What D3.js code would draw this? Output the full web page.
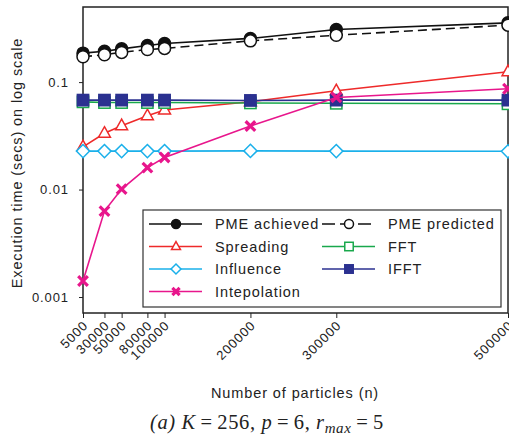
<!DOCTYPE html>
<html>
<head>
<meta charset="utf-8">
<script src="https://cdn.jsdelivr.net/npm/d3@7"></script>
<style>
  body { margin: 0; background: #fff; }
  svg text { font-family: "Liberation Sans", Arial, sans-serif; fill: #222; letter-spacing: 0.9px; }
</style>
</head>
<body>
<svg id="chart" width="509" height="439"></svg>
<script>
// particle counts (x axis)
const particles = [5000, 30000, 50000, 80000, 100000, 200000, 300000, 500000];
const xTickLabels = ['5000', '30000', '50000', '80000', '100000', '200000', '300000', '500000'];
const yTickValues = [0.001, 0.01, 0.1];
const yTickLabels = ['0.001', '0.01', '0.1'];

// execution time (secs)
const pmeAchieved = [0.186, 0.194, 0.204, 0.219, 0.229, 0.255, 0.309, 0.356];
const pmePredicted = [0.172, 0.180, 0.189, 0.201, 0.206, 0.242, 0.273, 0.339];
const spreading = [0.025, 0.0334, 0.0393, 0.0486, 0.055, 0.0656, 0.083, 0.125];
const fft = [0.0655, 0.0645, 0.0645, 0.0645, 0.0645, 0.064, 0.0635, 0.0628];
const influence = [0.0228, 0.0228, 0.0228, 0.0228, 0.0228, 0.0229, 0.0228, 0.0227];
const ifft = [0.068, 0.068, 0.068, 0.068, 0.068, 0.0675, 0.068, 0.068];
const interpolation = [0.00141, 0.0063, 0.0101, 0.016, 0.0199, 0.039, 0.072, 0.0867];

const series = [
  { name: 'PME achieved', values: pmeAchieved, color: '#111', marker: 'circle', fill: true, dash: null },
  { name: 'PME predicted', values: pmePredicted, color: '#111', marker: 'circle', fill: false, dash: '9,5' },
  { name: 'Spreading', values: spreading, color: '#ee2a2a', marker: 'triangle', fill: false, dash: null },
  { name: 'FFT', values: fft, color: '#19a84c', marker: 'square', fill: false, dash: null },
  { name: 'Influence', values: influence, color: '#1ab0ea', marker: 'diamond', fill: false, dash: null },
  { name: 'IFFT', values: ifft, color: '#2b3190', marker: 'square', fill: true, dash: null },
  { name: 'Intepolation', values: interpolation, color: '#e8168c', marker: 'cross', fill: true, dash: null }
];

const margin = { top: 7, right: 1, bottom: 126, left: 83 };
const width = 509 - margin.left - margin.right;
const height = 439 - margin.top - margin.bottom;

const svg = d3.select('#chart');
const g = svg.append('g').attr('transform', 'translate(' + margin.left + ',' + margin.top + ')');

const x = d3.scaleLinear().domain([5000, 500000]).range([0, width]);
const y = d3.scaleLog().domain([0.00071, 0.5]).range([height, 0]);

// frame
g.append('rect')
  .attr('width', width).attr('height', height)
  .attr('fill', 'none').attr('stroke', '#222').attr('stroke-width', 1.5);

// y axis
const yAxis = g.append('g')
  .call(d3.axisLeft(y).tickValues(yTickValues).tickSize(4).tickPadding(10)
    .tickFormat((d, i) => yTickLabels[i]));
yAxis.select('.domain').remove();
yAxis.selectAll('line').attr('stroke', '#222');
yAxis.selectAll('text').attr('font-size', 13).attr('fill', '#222');

// x axis
const xAxis = g.append('g')
  .attr('transform', 'translate(0,' + height + ')')
  .call(d3.axisBottom(x).tickValues(particles).tickSize(5)
    .tickFormat((d, i) => xTickLabels[i]));
xAxis.select('.domain').remove();
xAxis.selectAll('line').attr('stroke', '#222');
xAxis.selectAll('text')
  .attr('font-size', 13).attr('fill', '#222')
  .attr('text-anchor', 'end')
  .attr('dy', '0.35em')
  .attr('transform', 'translate(2,10) rotate(-45)')
  .attr('x', 0).attr('y', 0);

// axis titles
svg.append('text')
  .attr('transform', 'translate(22,' + (margin.top + 156) + ') rotate(-90)')
  .attr('text-anchor', 'middle')
  .attr('font-size', 14.5)
  .text('Execution time (secs) on log scale');

svg.append('text')
  .attr('x', 295).attr('y', 398)
  .attr('text-anchor', 'middle')
  .attr('font-size', 14.5)
  .text('Number of particles (n)');

const cap = svg.append('text')
  .attr('x', 267).attr('y', 429)
  .attr('text-anchor', 'middle')
  .style('font-family', '"Liberation Serif", "Times New Roman", serif')
  .style('letter-spacing', '0.6px')
  .attr('font-size', 20.5);
cap.append('tspan').attr('font-style', 'italic').text('(a) K');
cap.append('tspan').text('\u2009=\u2009256, ');
cap.append('tspan').attr('font-style', 'italic').text('p');
cap.append('tspan').text('\u2009=\u20096, ');
cap.append('tspan').attr('font-style', 'italic').text('r');
cap.append('tspan').attr('font-style', 'italic').attr('font-size', 15).attr('dy', 4).text('max');
cap.append('tspan').attr('dy', -4).text('\u2009=\u20095');

function drawMarker(sel, s, size) {
  const c = s.color;
  if (s.marker === 'circle') {
    sel.append('circle').attr('r', size * 0.5)
      .attr('fill', s.fill ? c : '#fff').attr('stroke', c).attr('stroke-width', 1.5);
  } else if (s.marker === 'square') {
    const h = size * 0.47;
    sel.append('rect').attr('x', -h).attr('y', -h).attr('width', 2 * h).attr('height', 2 * h)
      .attr('fill', s.fill ? c : '#fff').attr('stroke', c).attr('stroke-width', 1.5);
  } else if (s.marker === 'triangle') {
    const h = size * 0.55;
    sel.append('path').attr('d', 'M0,' + (-h) + 'L' + (h * 0.9) + ',' + (h * 0.6) + 'L' + (-h * 0.9) + ',' + (h * 0.6) + 'Z')
      .attr('fill', '#fff').attr('stroke', c).attr('stroke-width', 1.5);
  } else if (s.marker === 'diamond') {
    const h = size * 0.55;
    sel.append('path').attr('d', 'M0,' + (-h) + 'L' + h + ',0L0,' + h + 'L' + (-h) + ',0Z')
      .attr('fill', '#fff').attr('stroke', c).attr('stroke-width', 1.5);
  } else if (s.marker === 'cross') {
    const h = size * 0.4;
    sel.append('path').attr('d', 'M' + (-h) + ',' + (-h) + 'L' + h + ',' + h + 'M' + h + ',' + (-h) + 'L' + (-h) + ',' + h)
      .attr('stroke', c).attr('stroke-width', 3.2).attr('fill', 'none');
  }
}

const line = d3.line().x((d, i) => x(particles[i])).y(d => y(d));

const plot = g.append('g');
series.forEach(s => {
  const sg = plot.append('g');
  sg.append('path')
    .attr('d', line(s.values))
    .attr('fill', 'none')
    .attr('stroke', s.color)
    .attr('stroke-width', 1.6)
    .attr('stroke-dasharray', s.dash);
  s.values.forEach((v, i) => {
    const m = sg.append('g').attr('transform', 'translate(' + x(particles[i]) + ',' + y(v) + ')');
    drawMarker(m, s, 12);
  });
});

// legend
const legend = svg.append('g').attr('transform', 'translate(143,210)');
legend.append('rect')
  .attr('width', 358).attr('height', 97)
  .attr('fill', '#fff').attr('stroke', '#333').attr('stroke-width', 1.2);

const legendOrder = [
  { s: series[0], col: 0, row: 0 },
  { s: series[1], col: 1, row: 0 },
  { s: series[2], col: 0, row: 1 },
  { s: series[3], col: 1, row: 1 },
  { s: series[4], col: 0, row: 2 },
  { s: series[5], col: 1, row: 2 },
  { s: series[6], col: 0, row: 3 }
];
const colX = [6, 179];
legendOrder.forEach(o => {
  const lg = legend.append('g')
    .attr('transform', 'translate(' + colX[o.col] + ',' + (14 + o.row * 22.5) + ')');
  lg.append('line').attr('x1', 0).attr('x2', 53)
    .attr('stroke', o.s.color).attr('stroke-width', 1.6)
    .attr('stroke-dasharray', o.s.dash ? '13,5' : null);
  drawMarker(lg.append('g').attr('transform', 'translate(27,0)'), o.s, 9);
  lg.append('text').attr('x', 66).attr('dy', '0.36em')
    .attr('font-size', 14.5).text(o.s.name);
});
</script>
</body>
</html>
